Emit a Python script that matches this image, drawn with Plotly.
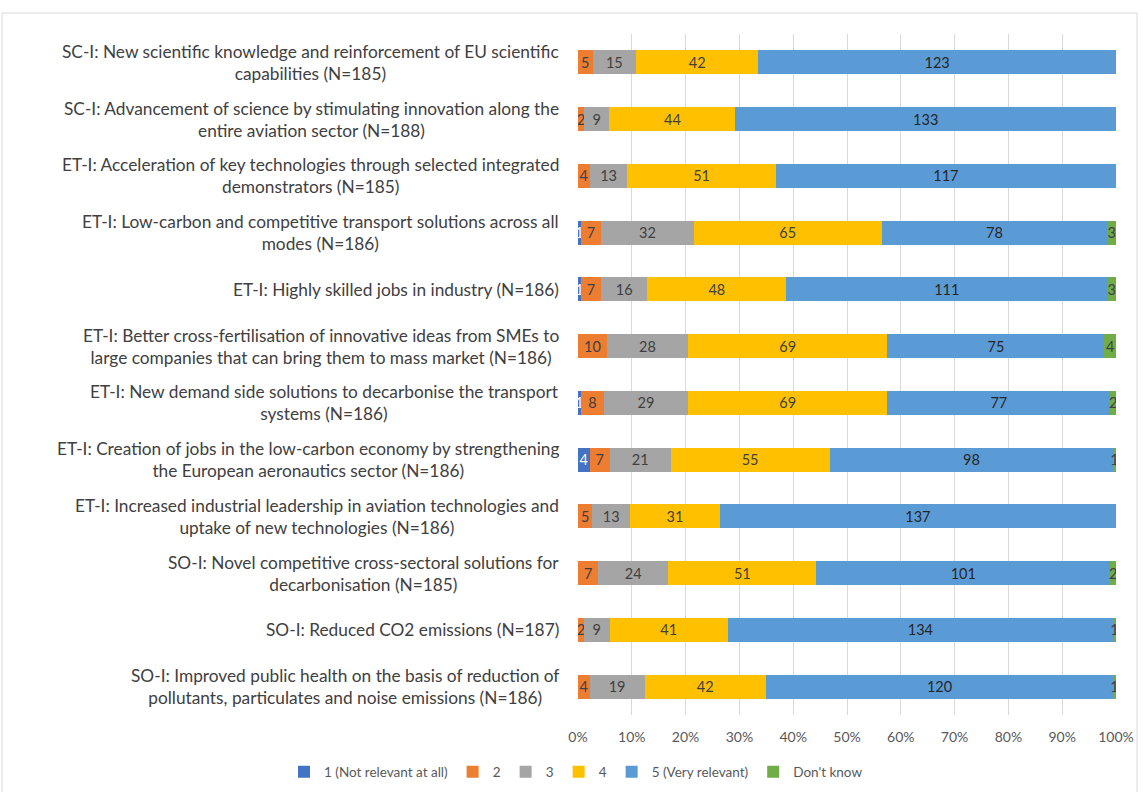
import plotly.graph_objects as go

categories = [
    "SC-I: New scientific knowledge and reinforcement of EU scientific<br>capabilities (N=185)",
    "SC-I: Advancement of science by stimulating innovation along the<br>entire aviation sector (N=188)",
    "ET-I: Acceleration of key technologies through selected integrated<br>demonstrators (N=185)",
    "ET-I: Low-carbon and competitive transport solutions across all<br>modes (N=186)",
    "ET-I: Highly skilled jobs in industry (N=186)",
    "ET-I: Better cross-fertilisation of innovative ideas from SMEs to<br>large companies that can bring them to mass market (N=186)",
    "ET-I: New demand side solutions to decarbonise the transport<br>systems (N=186)",
    "ET-I: Creation of jobs in the low-carbon economy by strengthening<br>the European aeronautics sector (N=186)",
    "ET-I: Increased industrial leadership in aviation technologies and<br>uptake of new technologies (N=186)",
    "SO-I: Novel competitive cross-sectoral solutions for<br>decarbonisation (N=185)",
    "SO-I: Reduced CO2 emissions (N=187)",
    "SO-I: Improved public health on the basis of reduction of<br>pollutants, particulates and noise emissions (N=186)",
]

series_names = ["1 (Not relevant at all)", "2", "3", "4", "5 (Very relevant)", "Don't know"]
s1 = [0, 0, 0, 1, 1, 0, 1, 4, 0, 0, 0, 0]
s2 = [5, 2, 4, 7, 7, 10, 8, 7, 5, 7, 2, 4]
s3 = [15, 9, 13, 32, 16, 28, 29, 21, 13, 24, 9, 19]
s4 = [42, 44, 51, 65, 48, 69, 69, 55, 31, 51, 41, 42]
s5 = [123, 133, 117, 78, 111, 75, 77, 98, 137, 101, 134, 120]
s6 = [0, 0, 0, 3, 3, 4, 2, 1, 0, 2, 1, 1]
series_values = [s1, s2, s3, s4, s5, s6]
colors = ["#4472C4", "#ED7D31", "#A5A5A5", "#FFC000", "#5B9BD5", "#70AD47"]
text_colors = ["#FFFFFF", "#404040", "#404040", "#404040", "#262626", "#404040"]

tick_vals = [0, 10, 20, 30, 40, 50, 60, 70, 80, 90, 100]
tick_text = [f"{v}%" for v in tick_vals]

idx = list(range(len(categories)))

fig = go.Figure()
for name, vals, col, tcol in zip(series_names, series_values, colors, text_colors):
    fig.add_trace(go.Bar(
        y=idx, x=vals, name=name, orientation="h",
        marker=dict(color=col, line=dict(width=0)),
        text=[str(v) if v > 0 else "" for v in vals],
        textposition="inside", insidetextanchor="middle",
        textfont=dict(color=tcol, size=14.5, family="Lato"),
        hoverinfo="x+name",
    ))

plot_h = 792 - 34 - 77
fig.update_layout(
    barmode="stack", barnorm="percent", bargap=0.58,
    width=1143, height=792,
    margin=dict(l=578, r=27, t=34, b=77, autoexpand=False),
    paper_bgcolor="white", plot_bgcolor="white",
    font=dict(family="Lato", color="#595959"),
    uniformtext=dict(minsize=14.5, mode="show"),
    legend=dict(orientation="h", x=(284 - 578) / 538, xanchor="left",
                y=(715 - 772) / plot_h, yanchor="middle",
                font=dict(size=13.5, color="#595959"), traceorder="normal"),
    showlegend=True,
)
fig.update_xaxes(range=[0, 100], tickvals=tick_vals, ticktext=tick_text,
                 showgrid=True, gridcolor="#D9D9D9", gridwidth=1,
                 zeroline=False, tickfont=dict(size=14, color="#595959"),
                 ticks="", showline=False, ticklabelstandoff=12)
fig.update_yaxes(range=[len(categories) - 0.5, -0.5], showticklabels=False,
                 showgrid=False, zeroline=False, ticks="")

for i, c in enumerate(categories):
    fig.add_annotation(x=-0.032, xref="paper", y=i, yref="y", text=c,
                       xanchor="right", yanchor="middle", align="center",
                       showarrow=False, font=dict(size=17.3, color="#404040", family="Lato"))

# chart border
fig.add_shape(type="rect", xref="paper", yref="paper",
              x0=(2 - 578) / 538, x1=(1137 - 578) / 538,
              y0=-1, y1=(792 - 77 - 13) / plot_h,
              line=dict(color="#D9D9D9", width=1), layer="below")

fig.write_html("out.html")
